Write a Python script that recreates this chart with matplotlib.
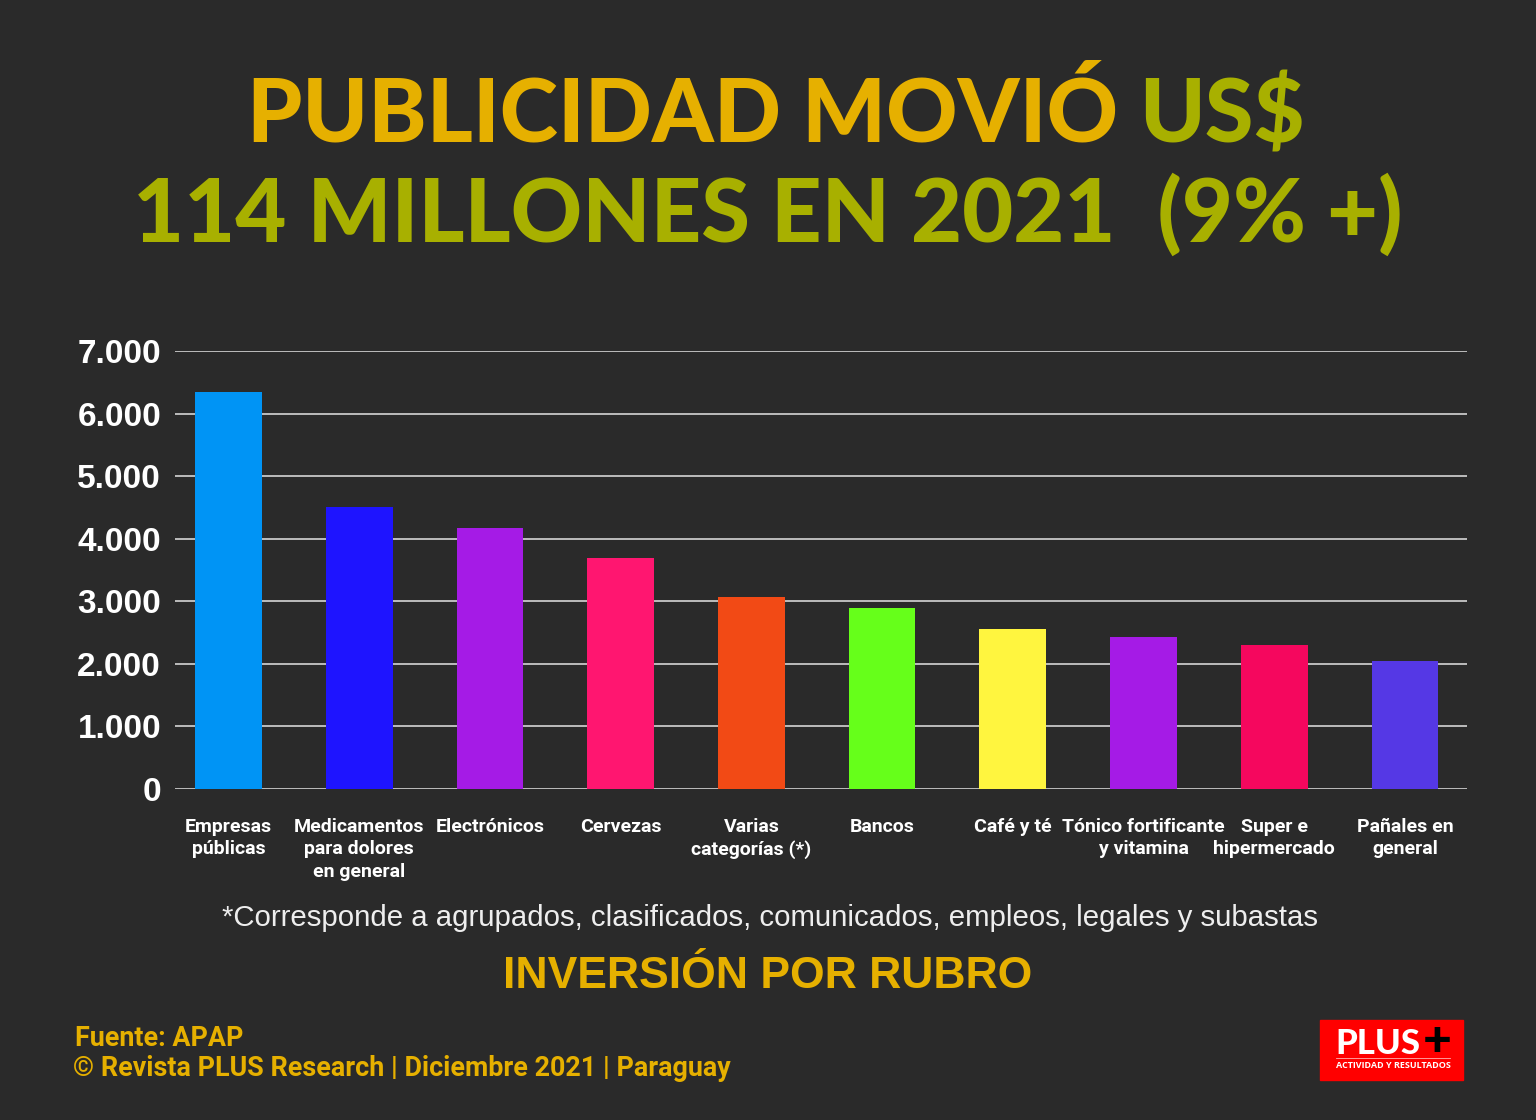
import matplotlib
matplotlib.use("Agg")
import matplotlib.pyplot as plt
from matplotlib.patches import Rectangle
from matplotlib.ticker import FuncFormatter

# data
rubros = ["Empresas\npúblicas", "Medicamentos\npara dolores\nen general",
          "Electrónicos", "Cervezas", "Varias\ncategorías (*)", "Bancos",
          "Café y té", "Tónico fortificante\ny vitamina", "Super e\nhipermercado",
          "Pañales en\ngeneral"]
inversion = [6350, 4500, 4170, 3690, 3070, 2890, 2560, 2430, 2300, 2050]
colores = ["#0094F5", "#1E14FF", "#A51BE6", "#FF1670", "#F24A15",
           "#66FF1A", "#FFF53F", "#A51BE6", "#F5075E", "#5538E5"]
yticks = [0, 1000, 2000, 3000, 4000, 5000, 6000, 7000]

BG = "#2A2A2A"
YEL = "#E6B000"
OLIVE = "#A8B000"
W, H = 1536, 1120
NARROW = ["Roboto", "Liberation Sans", "DejaVu Sans"]


def fy(py):
    return 1 - py / H


def fx(px):
    return px / W


fig = plt.figure(figsize=(15.36, 11.2), dpi=100, facecolor=BG)
ax = fig.add_axes([fx(175), fy(789), fx(1467) - fx(175), fy(351) - fy(789)])
ax.set_facecolor(BG)

x = list(range(len(rubros)))
ax.bar(x, inversion, width=0.51, color=colores, zorder=3)
ax.set_ylim(0, 7000)
ax.set_xlim(-0.41, 9.475)
ax.set_yticks(yticks)
ax.yaxis.set_major_formatter(FuncFormatter(lambda v, p: f"{int(v):,}".replace(",", ".")))
ax.grid(axis="y", color="#BDBDBD", lw=1.4, zorder=1)
ax.tick_params(axis="y", length=0, pad=10, labelsize=24, labelcolor="white")
for t in ax.get_yticklabels():
    t.set_fontweight("bold")
    t.set_family(["Liberation Sans", "DejaVu Sans"])
ax.set_xticks(x)
ax.set_xticklabels(rubros, fontsize=14, color="white", fontweight="bold",
                   family=NARROW, linespacing=1.3, va="top")
ax.tick_params(axis="x", length=0, pad=21)
for s in ax.spines.values():
    s.set_visible(False)

# title
tfont = dict(family=["Lato", "DejaVu Sans"], fontweight="black", fontsize=63.5)
t1 = fig.text(fx(247), fy(142), "PUBLICIDAD MOVIÓ ", color=YEL, va="baseline", ha="left", **tfont)
fig.canvas.draw()
bb = t1.get_window_extent()
fig.text(bb.x1 / W, fy(142), "US$", color=OLIVE, va="baseline", ha="left", **tfont)
fig.text(fx(768), fy(242), "114 MILLONES EN 2021  (9% +)", color=OLIVE,
         va="baseline", ha="center", **tfont)

# notes
fig.text(fx(770), fy(918), "*Corresponde a agrupados, clasificados, comunicados, empleos, legales y subastas",
         color="#EEEEEE", fontsize=21.2, ha="center", va="center",
         family=["Liberation Sans", "DejaVu Sans"])
fig.text(fx(768), fy(976), "INVERSIÓN POR RUBRO", color=YEL, fontsize=32,
         fontweight="bold", ha="center", va="center",
         family=["Liberation Sans", "DejaVu Sans"])
ffont = dict(family=NARROW, fontweight="bold", fontsize=19.4, color=YEL,
             ha="left", va="center")
fig.text(fx(75), fy(1038), "Fuente: APAP", **ffont)
fig.text(fx(73), fy(1069), "© Revista PLUS Research | Diciembre 2021 | Paraguay", **ffont)

# logo
fig.patches.append(Rectangle((fx(1320), fy(1080)), fx(1463) - fx(1320), fy(1020) - fy(1080),
                             transform=fig.transFigure, color="#FF0000", zorder=1))
lfont = dict(family=["Lato", "DejaVu Sans"], fontweight="black", va="baseline", ha="left")
p = fig.text(fx(1335), fy(1054), "PLUS", color="white", fontsize=25, **lfont)
fig.canvas.draw()
pb = p.get_window_extent()
fig.text(pb.x1 / W + 0.002, fy(1056), "+", color="black", fontsize=36, **lfont)
fig.text(fx(1393), fy(1065), "ACTIVIDAD Y RESULTADOS", color="white", fontsize=6.5,
         fontweight="bold", ha="center", va="center",
         family=["Open Sans", "DejaVu Sans"])
fig.add_artist(plt.Line2D([fx(1336), fx(1450)], [fy(1058), fy(1058)], color="#FFB0B0", lw=0.6))

fig.savefig("out.png", dpi=100, facecolor=BG)
